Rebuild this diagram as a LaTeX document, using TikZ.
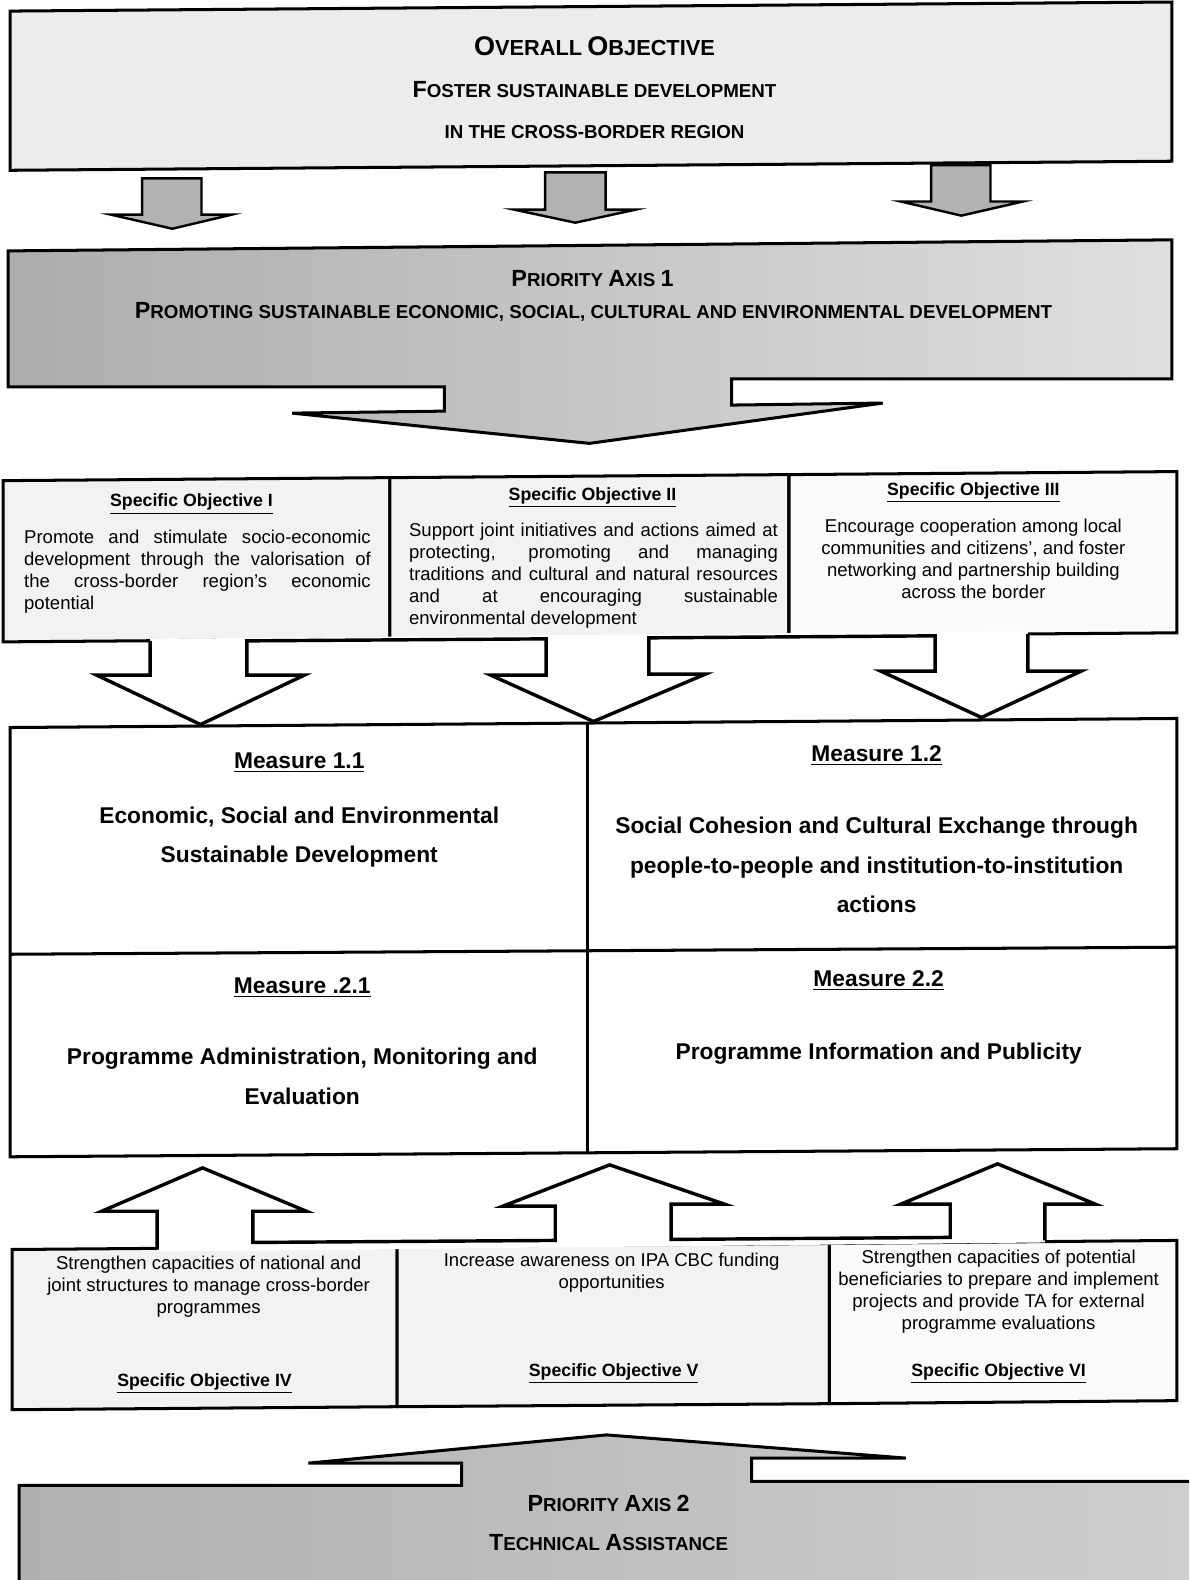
\documentclass[tikz,border=0pt]{standalone}
\usepackage{fontspec}
\setmainfont{Liberation Sans}
\usepackage{tikz}
\usetikzlibrary{shapes}
\tikzstyle{frame}=[draw=black,line width=1.5pt,line join=miter]
\tikzstyle{darkarrow}=[draw=black,fill=gray!60,line width=1.2pt]
\tikzstyle{blockarrow}=[draw=black,line width=1.7pt,line join=miter]
\tikzstyle{captext}=[inner sep=0pt,font=\fontsize{9.3}{11}\selectfont\bfseries]
\tikzstyle{objtitle}=[inner sep=0pt,font=\fontsize{8.8}{10}\selectfont\bfseries]
\tikzstyle{objtext}=[inner sep=0pt,anchor=north,font=\fontsize{9.2}{10.9}\selectfont]
\tikzstyle{meastitle}=[inner sep=0pt,font=\fontsize{11.3}{20}\selectfont\bfseries]
\tikzstyle{meastext}=[inner sep=0pt,anchor=north,align=center,font=\fontsize{11.3}{19.8}\selectfont\bfseries]
\newcommand{\capinit}[1]{{\fontsize{11.6}{14}\selectfont #1}}
\newcommand{\capbig}[1]{{\fontsize{13.4}{16}\selectfont #1}}

\begin{document}
\begin{tikzpicture}[x=0.5pt,y=-0.5pt]
    \useasboundingbox (0,0) rectangle (1180,1568);
    \clip (0,0) rectangle (1180,1568);

    % overall objective
    \draw[frame,fill=gray!15] (10,11) -- (1163,2) -- (1163,160) -- (10,169) -- cycle;
    \node[captext] (ooTitle) at (590,46) {\capbig{O}{\fontsize{10.8}{13}\selectfont VERALL} \capbig{O}{\fontsize{10.8}{13}\selectfont BJECTIVE}};
    \node[captext] (ooLineA) at (590,89) {\capinit{F}OSTER SUSTAINABLE DEVELOPMENT};
    \node[captext] (ooLineB) at (590,131) {IN THE CROSS-BORDER REGION};

    \draw[darkarrow] (141,177) -- (200,177) -- (200,213) -- (230,213) -- (171,227) -- (110,213) -- (141,213) -- cycle;
    \draw[darkarrow] (541,171) -- (601,171) -- (601,208) -- (631,208) -- (571,221) -- (510,208) -- (541,208) -- cycle;
    \draw[darkarrow] (924,164) -- (983,164) -- (983,200) -- (1015,200) -- (954,214) -- (894,200) -- (924,200) -- cycle;

    % priority axis 1
    \draw[frame,left color=gray!65,right color=gray!25] (8,249) -- (1163,238) -- (1163,376) -- (726,376) -- (726,402) -- (876,400) -- (585,440) -- (290,410) -- (441,408) -- (441,384) -- (8,384) -- cycle;
    \node[captext] (paOneTitle) at (588,276) {\capinit{P}RIORITY \capinit{A}XIS \capinit{1}};
    \node[captext] (paOneText) at (589,310) {\capinit{P}ROMOTING SUSTAINABLE ECONOMIC, SOCIAL, CULTURAL AND ENVIRONMENTAL DEVELOPMENT};

    % specific objectives I-III
    \draw[frame,fill=gray!10] (3,477) -- (387,474) -- (387,634) -- (3,637) -- cycle;
    \draw[frame,fill=gray!10] (387,474) -- (783,471) -- (783,631) -- (387,634) -- cycle;
    \draw[frame,fill=gray!4] (783,471) -- (1168,468) -- (1168,628) -- (783,631) -- cycle;

    \node[objtitle] (soOneTitle) at (190,500) {\underline{Specific Objective I}};
    \node[objtext,text width=172pt,align=justify] (soOneText) at (196,526) {Promote and stimulate socio-economic\linebreak development through the valorisation of\linebreak the cross-border region's economic\linebreak potential};
    \node[objtitle] (soTwoTitle) at (588,494) {\underline{Specific Objective II}};
    \node[objtext,text width=183pt,align=justify] (soTwoText) at (589,519) {Support joint initiatives and actions aimed at\linebreak protecting, promoting and managing\linebreak traditions and cultural and natural resources\linebreak and at encouraging sustainable\linebreak environmental development};
    \node[objtitle] (soThreeTitle) at (966,489) {\underline{Specific Objective III}};
    \node[objtext,align=center] (soThreeText) at (966,515) {Encourage cooperation among local\\communities and citizens', and foster\\networking and partnership building\\across the border};

    \fill[white] (149,634) -- (149,670) -- (96,670) -- (199,719) -- (302,670) -- (245,670) -- (245,636) -- (542,634) -- (542,670) -- (487,670) -- (589,716) -- (700,669) -- (644,669) -- (644,633) -- (928,631) -- (928,666) -- (874,666) -- (974,712) -- (1073,666) -- (1020,666) -- (1020,626) -- cycle;
    \draw[blockarrow] (149,636) -- (149,670) -- (96,670) -- (199,719) -- (302,670) -- (245,670) -- (245,636) -- (542,634) -- (542,670) -- (487,670) -- (589,716) -- (700,669) -- (644,669) -- (644,633) -- (928,631) -- (928,666) -- (874,666) -- (974,712) -- (1073,666) -- (1020,666) -- (1020,629);

    % measures
    \draw[frame,fill=white] (10,722) -- (1168,713) -- (1168,1140) -- (10,1148) -- cycle;
    \draw[frame] (583,717.5) -- (583,1144);
    \draw[frame] (10,947) -- (1168,940);

    \node[meastitle] (mOneOneTitle) at (297,757) {\underline{Measure 1.1}};
    \node[meastext] (mOneOneText) at (297,800) {Economic, Social and Environmental\\Sustainable Development};
    \node[meastitle] (mOneTwoTitle) at (870,750) {\underline{Measure 1.2}};
    \node[meastext] (mOneTwoText) at (870,810) {Social Cohesion and Cultural Exchange through\\people-to-people and institution-to-institution\\actions};
    \node[meastitle] (mTwoOneTitle) at (300,980) {\underline{Measure .2.1}};
    \node[meastext] (mTwoOneText) at (300,1040) {Programme Administration, Monitoring and\\Evaluation};
    \node[meastitle] (mTwoTwoTitle) at (872,973) {\underline{Measure 2.2}};
    \node[meastext] (mTwoTwoText) at (872,1035) {Programme Information and Publicity};

    % specific objectives IV-VI
    \draw[frame,fill=gray!10] (12,1240) -- (394,1237) -- (394,1396) -- (12,1399) -- cycle;
    \draw[frame,fill=gray!10] (394,1237) -- (823,1234) -- (823,1393) -- (394,1396) -- cycle;
    \draw[frame,fill=gray!4] (823,1234) -- (1168,1231) -- (1168,1390) -- (823,1393) -- cycle;

    \fill[white] (156,1242) -- (156,1202) -- (101,1202) -- (201,1159) -- (304,1202) -- (251,1202) -- (251,1233) -- (551,1231) -- (551,1197) -- (499,1197) -- (605,1156) -- (719,1195) -- (666,1195) -- (666,1230) -- (943,1228) -- (943,1195) -- (894,1195) -- (990,1155) -- (1087,1195) -- (1037,1195) -- (1037,1233) -- cycle;
    \draw[blockarrow] (156,1240) -- (156,1202) -- (101,1202) -- (201,1159) -- (304,1202) -- (251,1202) -- (251,1233) -- (551,1231) -- (551,1197) -- (499,1197) -- (605,1156) -- (719,1195) -- (666,1195) -- (666,1230) -- (943,1228) -- (943,1195) -- (894,1195) -- (990,1155) -- (1087,1195) -- (1037,1195) -- (1037,1231);

    \node[objtext,align=center] (soFourText) at (207,1246) {Strengthen capacities of national and\\joint structures to manage cross-border\\programmes};
    \node[objtitle] (soFourTitle) at (203,1373) {\underline{Specific Objective IV}};
    \node[objtext,align=center] (soFiveText) at (607,1243) {Increase awareness on IPA CBC funding\\opportunities};
    \node[objtitle] (soFiveTitle) at (609,1363) {\underline{Specific Objective V}};
    \node[objtext,align=center] (soSixText) at (991,1240) {Strengthen capacities of potential\\beneficiaries to prepare and implement\\projects and provide TA for external\\programme evaluations};
    \node[objtitle] (soSixTitle) at (991,1363) {\underline{Specific Objective VI}};

    % priority axis 2
    \draw[frame,left color=gray!62,right color=gray!38] (19,1600) -- (19,1474) -- (458,1474) -- (458,1452) -- (306,1452) -- (602,1424) -- (899,1447) -- (746,1447) -- (746,1470) -- (1200,1470) -- (1200,1600) -- cycle;
    \node[captext] (paTwoTitle) at (604,1492) {\capinit{P}RIORITY \capinit{A}XIS \capinit{2}};
    \node[captext] (paTwoText) at (604,1531) {\capinit{T}ECHNICAL \capinit{A}SSISTANCE};
\end{tikzpicture}
\end{document}
